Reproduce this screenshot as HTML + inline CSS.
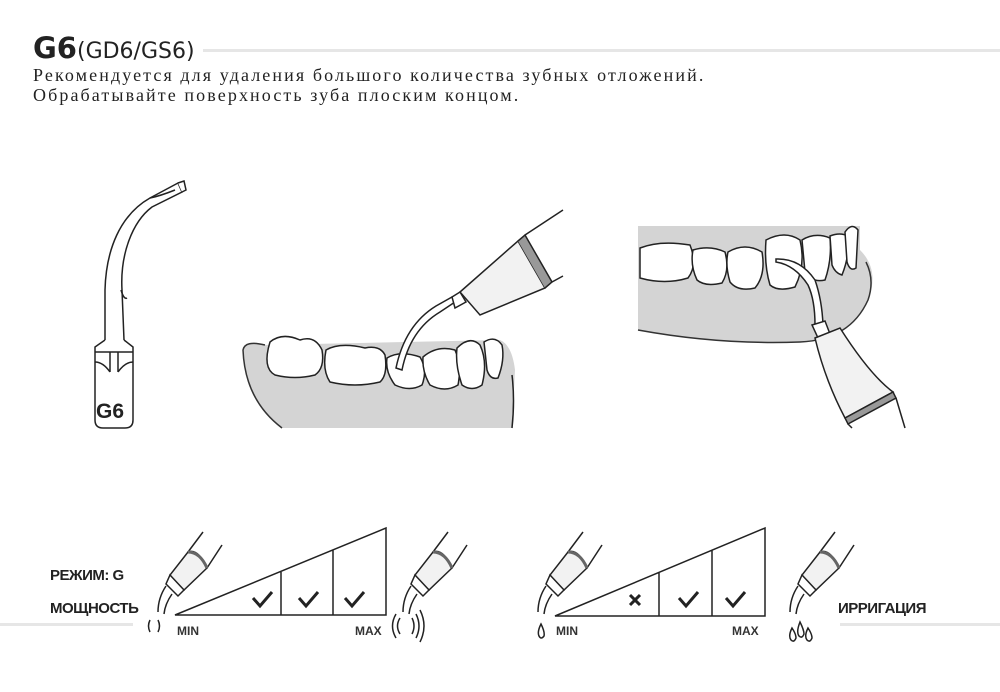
<!DOCTYPE html>
<html><head><meta charset="utf-8"><style>
body{margin:0;width:1000px;height:692px;background:#fff;overflow:hidden;position:relative;font-family:"Liberation Sans",sans-serif}
.t{position:absolute;white-space:nowrap}
</style></head><body>
<div class="t" style="left:33px;top:31px;font-size:29px;font-weight:bold;color:#222;font-family:'DejaVu Sans',sans-serif">G6<span style="font-weight:normal;font-size:22px">(GD6/GS6)</span></div>
<div style="position:absolute;left:203px;top:49px;width:797px;height:3px;background:#e6e6e6"></div>
<div class="t" style="left:33px;top:65px;font-size:18px;line-height:20px;letter-spacing:2.1px;color:#222;font-family:'Liberation Serif',serif">Рекомендуется для удаления большого количества зубных отложений.<br>Обрабатывайте поверхность зуба плоским концом.</div>

<svg width="1000" height="692" style="position:absolute;left:0;top:0" fill="none" stroke="#222" stroke-width="1.5">
<!-- tip -->
<path d="M105,340 L105,290 C106,250 120,215 150,198 L178,183 L182,192 L152,207 C132,222 120,255 122,290 L124,340" fill="#fff"/>
<path d="M178,183 L184,181 L186,190 L182,192" fill="#fff"/>
<path d="M150,198 Q160,196 175,190"/>
<path d="M121,290 Q124,300 127,298"/>
<path d="M105,340 L95,347 L95,420 Q95,428 103,428 L125,428 Q133,428 133,420 L133,347 L124,340"/>
<path d="M95,352 L133,352 M110,352 L110,372 M118,352 L118,372 M95,362 Q103,362 110,372 M133,362 Q125,362 118,372"/>
<text x="96" y="418" fill="#222" stroke="none" font-family="Liberation Sans" font-weight="bold" font-size="21">G6</text>

<!-- middle scene -->
<path d="M243,350 Q245,340 265,345 L500,340 Q512,345 515,370 L512,428 L282,428 Q245,400 243,350Z" fill="#d4d4d4" stroke="none"/>
<path d="M282,428 Q245,400 243,350 Q245,340 265,345" stroke="#333"/>
<path d="M512,375 Q515,400 512,428"/>
<path d="M270,342 Q282,332 300,340 Q315,335 322,350 Q325,368 315,375 Q295,380 275,375 Q262,368 270,342Z" fill="#fff"/>
<path d="M326,350 Q340,342 365,348 Q380,345 385,355 Q388,375 380,382 Q355,388 330,382 Q322,370 326,350Z" fill="#fff"/>
<path d="M387,358 Q400,350 420,357 Q428,370 422,385 Q410,392 395,385 Q385,372 387,358Z" fill="#fff"/>
<path d="M423,357 Q437,345 455,350 Q462,365 458,385 Q445,393 430,385 Q422,372 423,357Z" fill="#fff"/>
<path d="M457,348 Q470,335 480,345 Q488,362 482,385 Q472,392 462,385 Q455,365 457,348Z" fill="#fff"/>
<path d="M484,342 Q495,335 502,345 Q505,360 498,378 Q490,380 487,370Z" fill="#fff"/>
<path d="M396,368 L402,370 Q410,330 440,312 L455,302 L452,297 L436,306 Q405,325 396,368Z" fill="#fff"/>
<path d="M452,297 L460,292 L466,302 L455,308Z" fill="#fff"/>
<path d="M460,292 L518,241 L545,288 L480,315 Z" fill="#f2f2f2"/>
<path d="M518,241 L525,235 L552,282 L545,288" fill="#999"/>
<path d="M525,235 L563,210 M552,282 L563,276"/>

<!-- right scene -->
<path d="M638,226 L860,226 L860,250 Q880,270 868,300 Q850,340 800,342 Q720,345 638,330Z" fill="#d4d4d4" stroke="none"/>
<path d="M638,330 Q720,345 800,342 Q850,340 868,300 Q875,280 866,262" stroke="#333"/>
<path d="M640,248 Q660,240 690,245 Q698,265 688,278 Q665,285 640,278Z" fill="#fff"/>
<path d="M693,250 Q710,245 725,252 Q730,270 722,283 Q705,287 697,280 Q690,265 693,250Z" fill="#fff"/>
<path d="M728,252 Q745,242 762,252 Q766,275 755,288 Q738,292 730,282 Q725,265 728,252Z" fill="#fff"/>
<path d="M766,240 Q785,230 800,240 Q806,265 795,287 Q778,292 770,285 Q764,265 766,240Z" fill="#fff"/>
<path d="M802,240 Q815,232 830,238 Q832,260 825,280 Q812,283 805,272Z" fill="#fff"/>
<path d="M830,236 Q840,232 848,236 Q850,255 842,275 Q835,273 832,265Z" fill="#fff"/>
<path d="M845,232 Q852,222 858,230 L856,268 Q850,272 847,262Z" fill="#fff"/>
<path d="M776,259 Q800,258 815,280 Q822,300 823,325 L815,325 Q815,300 808,285 Q795,265 776,262Z" fill="#fff"/>
<path d="M812,325 L825,321 L830,334 L818,338Z" fill="#fff"/>
<path d="M815,338 L840,328 Q870,375 893,392 L845,418 Q825,380 815,338Z" fill="#f2f2f2"/>
<path d="M845,418 L893,392 L896,398 L848,424Z" fill="#999"/>
<path d="M848,424 L852,428 M896,398 L905,428"/>

<!-- bottom left -->
<path d="M175,615 L386,528 L386,615 Z M281,615 L281,572 M333,615 L333,550"/>
<g stroke-width="3"><path d="M253,598 L260,606 L272,592 M299,598 L306,606 L318,592 M345,598 L352,606 L364,592"/></g>
<g id="hp">
<path d="M203,532 L188,552 M222,545 L207,568"/>
<path d="M188,552 Q198,548 207,568 L184,590 Q175,583 170,575Z" fill="#f2f2f2"/>
<path d="M188,552 Q200,552 207,568" stroke="#666" stroke-width="3"/>
<path d="M170,575 L184,590 L178,596 L166,584Z" fill="#fff"/>
<path d="M166,586 Q158,598 158,612 M172,594 Q165,604 164,614"/>
</g>
<use href="#hp" transform="translate(245,0)"/>
<path d="M150,620 Q147,626 150,632 M158,620 Q161,626 158,632"/>
<path d="M400,618 Q395,626 400,634 M396,614 Q389,626 396,638 M412,618 Q416,626 412,634 M416,614 Q422,626 416,638 M420,610 Q428,626 420,642"/>
<!-- bottom right -->
<path d="M555,616 L765,528 L765,616 Z M659,616 L659,573 M712,616 L712,550"/>
<g stroke-width="3"><path d="M630,595 L640,605 M640,595 L630,605 M679,598 L686,606 L698,592 M726,598 L733,606 L745,592"/></g>
<use href="#hp" transform="translate(380,0)"/>
<use href="#hp" transform="translate(632,0)"/>
<path d="M541,624 Q537,632 539,636 Q541,640 544,636 Q545,632 541,624Z"/>
<path d="M792,628 Q788,636 791,640 Q794,643 796,638 Q796,634 792,628Z M800,622 Q796,632 799,636 Q802,639 804,634 Q804,630 800,622Z M808,628 Q804,636 807,640 Q810,643 812,638 Q812,634 808,628Z"/>
</svg>
<div style="position:absolute;left:0;top:623px;width:133px;height:3px;background:#e6e6e6"></div>
<div style="position:absolute;left:840px;top:623px;width:160px;height:3px;background:#e6e6e6"></div>
<div class="t" style="left:50px;top:567px;font-size:15px;font-weight:bold;color:#222;letter-spacing:-0.5px">РЕЖИМ: G</div>
<div class="t" style="left:50px;top:600px;font-size:15px;font-weight:bold;color:#222;letter-spacing:-0.5px">МОЩНОСТЬ</div>
<div class="t" style="left:177px;top:624px;font-size:12px;font-weight:bold;color:#333">MIN</div>
<div class="t" style="left:355px;top:624px;font-size:12px;font-weight:bold;color:#333">MAX</div>
<div class="t" style="left:556px;top:624px;font-size:12px;font-weight:bold;color:#333">MIN</div>
<div class="t" style="left:732px;top:624px;font-size:12px;font-weight:bold;color:#333">MAX</div>
<div class="t" style="left:838px;top:600px;font-size:15px;font-weight:bold;color:#222;letter-spacing:-0.5px">ИРРИГАЦИЯ</div>
</body></html>
